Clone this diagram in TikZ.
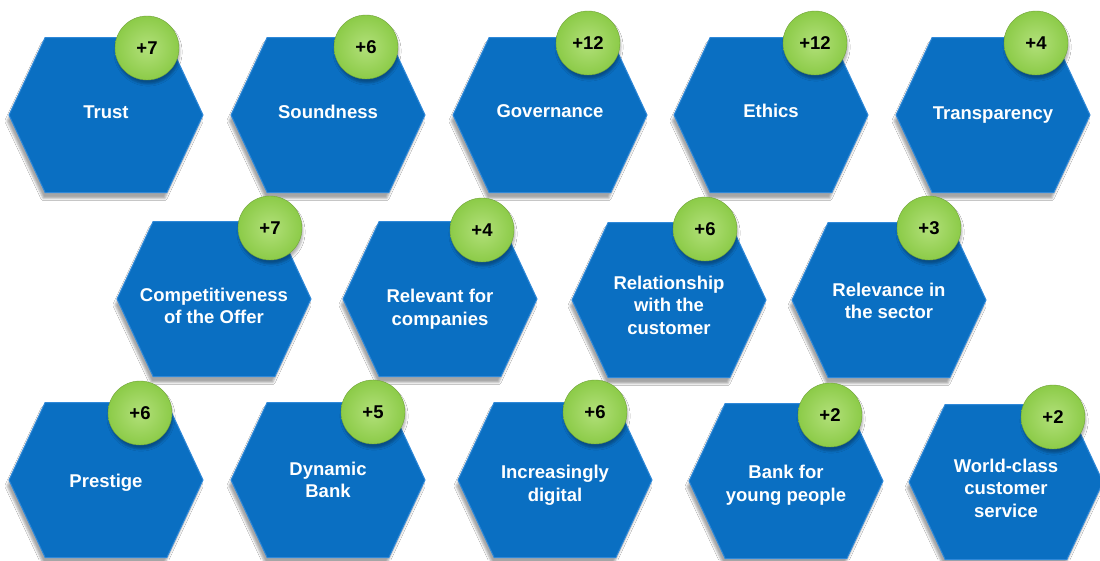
\documentclass[tikz,border=0pt]{standalone}
\usepackage{fontspec}
\setmainfont{Liberation Sans}
\usetikzlibrary{shapes.symbols, shadows.blur}
\definecolor{hexblue}{HTML}{0A6FC2}
\definecolor{hexrim}{HTML}{2F88D8}
\definecolor{badgegreen}{HTML}{8CCB48}
\definecolor{badgelight}{HTML}{B2E07A}
\tikzset{
  hexbox/.style={signal, signal to=east and west, signal pointer angle=130,
    minimum width=194pt, minimum height=155pt, inner sep=0pt,
    fill=hexblue, draw=hexrim, line width=1pt,
    blur shadow={shadow xshift=-2pt, shadow yshift=-6pt, shadow opacity=35}},
  hextext/.style={text=white, align=center, inner sep=0pt,
    font=\fontsize{18.5}{22.5}\selectfont\bfseries},
  badge/.style={circle, minimum size=64pt, inner sep=0pt,
    inner color=badgelight, outer color=badgegreen, draw=badgegreen!80!black,
    line width=0.4pt, font=\fontsize{18.5}{22}\selectfont\bfseries,
    blur shadow={shadow xshift=1pt, shadow yshift=-4pt, shadow opacity=30}}
}

\begin{document}
\begin{tikzpicture}[x=1pt, y=-1pt]
    \fill[white] (0,0) rectangle (1100,560);
    \useasboundingbox (0,0) rectangle (1100,560);
    % first row
    \node[hexbox, label={[hextext, yshift=3pt]center:Trust}] (Trust) at (106,115) {};
    \node[hexbox, label={[hextext, yshift=3pt]center:Soundness}] (Sound) at (328,115) {};
    \node[hexbox, label={[hextext, yshift=4pt]center:Governance}] (Gov) at (550,115) {};
    \node[hexbox, label={[hextext, yshift=4pt]center:Ethics}] (Ethics) at (771,115) {};
    \node[hexbox, label={[hextext]center:Transparency}] (Transp) at (993,115) {};
    % second row
    \node[hexbox, label={[hextext, yshift=-7pt]center:{Competitiveness\\of the Offer}}] (Offer) at (214,299) {};
    \node[hexbox, label={[hextext, yshift=-10pt]center:{Relevant for\\companies}}] (Comp) at (440,299) {};
    \node[hexbox, label={[hextext, yshift=-5pt]center:{Relationship\\with the\\customer}}] (Relat) at (669,300) {};
    \node[hexbox, label={[hextext, yshift=-1pt]center:{Relevance in\\the sector}}] (Sector) at (889,300) {};
    % third row
    \node[hexbox, label={[hextext, yshift=-3pt]center:Prestige}] (Prest) at (106,480) {};
    \node[hexbox, label={[hextext]center:{Dynamic\\Bank}}] (Dyn) at (328,480) {};
    \node[hexbox, label={[hextext, yshift=-5pt]center:{Increasingly\\digital}}] (Dig) at (555,480) {};
    \node[hexbox, label={[hextext, yshift=-4pt]center:{Bank for\\young people}}] (Young) at (786,481) {};
    \node[hexbox, label={[hextext, yshift=-6pt]center:{World-class\\customer\\service}}] (Serv) at (1006,482) {};
    % scores
    \node[badge] (pTrust) at (147,48) {+7};
    \node[badge] (pSound) at (366,47) {+6};
    \node[badge] (pGov) at (588,43) {+12};
    \node[badge] (pEthics) at (815,43) {+12};
    \node[badge] (pTransp) at (1036,43) {+4};
    \node[badge] (pOffer) at (270,228) {+7};
    \node[badge] (pComp) at (482,230) {+4};
    \node[badge] (pRelat) at (705,229) {+6};
    \node[badge] (pSector) at (929,228) {+3};
    \node[badge] (pPrest) at (140,413) {+6};
    \node[badge] (pDyn) at (373,412) {+5};
    \node[badge] (pDig) at (595,412) {+6};
    \node[badge] (pYoung) at (830,415) {+2};
    \node[badge] (pServ) at (1053,417) {+2};
\end{tikzpicture}
\end{document}
